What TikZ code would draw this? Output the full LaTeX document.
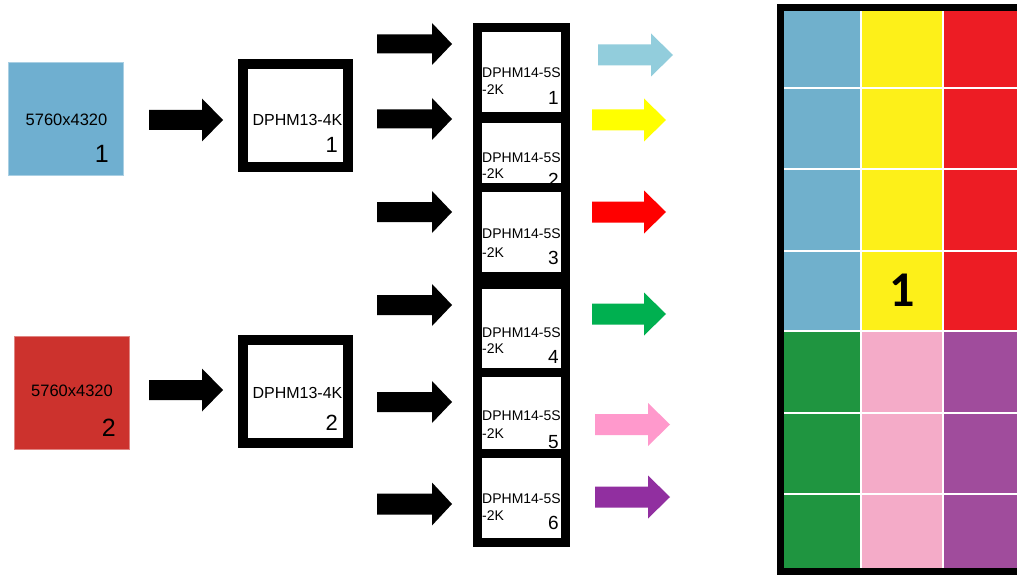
\documentclass[tikz,border=0pt]{standalone}
\usepackage{fontspec}
\setmainfont{Liberation Sans}
\newfontfamily\carlito{Carlito}
\definecolor{srcblue}{RGB}{111,175,208}
\definecolor{srcred}{RGB}{204,50,45}
\definecolor{arrblue}{RGB}{146,205,220}
\definecolor{arryellow}{RGB}{255,255,0}
\definecolor{arrred}{RGB}{255,0,0}
\definecolor{arrgreen}{RGB}{0,176,80}
\definecolor{arrpink}{RGB}{255,153,204}
\definecolor{arrpurple}{RGB}{145,47,160}
\definecolor{gblue}{RGB}{112,176,204}
\definecolor{gyellow}{RGB}{253,240,25}
\definecolor{gred}{RGB}{237,28,36}
\definecolor{ggreen}{RGB}{31,149,64}
\definecolor{gpink}{RGB}{244,171,200}
\definecolor{gpurple}{RGB}{160,76,156}
% block arrow: colour, x start, x end, y centre, shaft half, head half, head length
\newcommand\myblockarrow[7]{%
  \fill[#1] (#2,#4-#5) -- (#3-#7,#4-#5) -- (#3-#7,#4-#6) -- (#3,#4)
    -- (#3-#7,#4+#6) -- (#3-#7,#4+#5) -- (#2,#4+#5) -- cycle;}
\begin{document}
\begin{tikzpicture}[x=1pt,y=-1pt,
  srcbox/.style={minimum width=115pt,minimum height=113pt,inner sep=0pt,outer sep=0pt},
  midbox/.style={draw=black,line width=10pt,fill=white,minimum width=105pt,minimum height=103pt,inner sep=0pt},
  smallbox/.style={draw=black,line width=9pt,fill=white,minimum width=88pt,minimum height=89pt,inner sep=0pt},
  lbl/.style={inner sep=0pt,font=\fontsize{16.5}{19}\selectfont},
  mlbl/.style={inner sep=0pt,font=\fontsize{16}{19}\selectfont},
  slbl/.style={inner sep=0pt,font=\fontsize{14}{16}\selectfont},
  num/.style={inner sep=0pt,font=\fontsize{25}{30}\selectfont},
  mnum/.style={inner sep=0pt,font=\fontsize{22}{26}\selectfont},
  snum/.style={inner sep=0pt,font=\fontsize{19}{23}\selectfont},
  cell/.style={draw=white,line width=2pt}
]
\useasboundingbox (0,0) rectangle (1017,575);
\fill[white] (0,0) rectangle (1017,575);

% sources
\node[srcbox,fill=srcblue,draw=srcblue!60!white,line width=0.8pt] (s1) at (65.5,118.5) {};
\node[lbl,anchor=base] (s1t) at (66.5,126) {5760x4320};
\node[num,anchor=base east] (s1n) at (109,162) {1};
\node[srcbox,fill=srcred,draw=srcred!60!white,line width=0.8pt] (s2) at (71.5,392.5) {};
\node[lbl,anchor=base] (s2t) at (72,396) {5760x4320};
\node[num,anchor=base east] (s2n) at (116,436) {2};

% first stage arrows
\myblockarrow{black}{149}{223}{120}{10}{21.5}{21}
\myblockarrow{black}{149}{223}{390}{10}{21.5}{21}

% DPHM13 boxes
\node[midbox] (m1) at (295.5,115.5) {};
\node[mlbl,anchor=base] (m1t) at (297.5,125) {DPHM13-4K};
\node[mnum,anchor=base east] (m1n) at (338,153) {1};
\node[midbox] (m2) at (295.5,391.5) {};
\node[mlbl,anchor=base] (m2t) at (297.5,398) {DPHM13-4K};
\node[mnum,anchor=base east] (m2n) at (338,430) {2};

% second stage arrows
\myblockarrow{black}{377}{452}{44}{9.5}{21}{20}
\myblockarrow{black}{377}{452}{119}{9.5}{21}{20}
\myblockarrow{black}{377}{452}{212}{10}{21}{20}
\myblockarrow{black}{377}{452}{305}{10}{21}{20}
\myblockarrow{black}{377}{452}{402}{10}{21}{20}
\myblockarrow{black}{377}{452}{504}{10.5}{21.5}{20}

% DPHM14 boxes (stacked, overlapping)
\foreach \t/\n/\a/\b/\c in {23/1/50/67/75, 114/2/43/59/66, 183/3/50/69/75, 280/4/52/68/77, 368/5/47/65/74, 449/6/49/66/74}{
  \node[smallbox] (d\n) at (521.5,\t+49) {};
  \node[slbl,anchor=base west] (d\n a) at (482,\t+\a+5) {DPHM14-5S};
  \node[slbl,anchor=base west] (d\n b) at (482,\t+\b+5) {-2K};
  \node[snum,anchor=base east] (d\n n) at (559,\t+\c+6.5) {\n};
}
% redraw overlapping top borders so later boxes cover earlier text
\foreach \t/\n in {183/3, 368/5, 449/6}{
  \fill[white] (482,\t+9) rectangle (561,\t+20);
  \fill[black] (473,\t) rectangle (570,\t+9);
}

% coloured arrows
\myblockarrow{arrblue}{598}{673}{55}{10.5}{21.5}{22}
\myblockarrow{arryellow}{592}{666}{120}{10.5}{21.5}{22}
\myblockarrow{arrred}{592}{666}{212}{10.5}{21.5}{22}
\myblockarrow{arrgreen}{592}{666}{314}{10.5}{21.5}{22}
\myblockarrow{arrpink}{595}{670}{424.5}{10.5}{21.5}{22}
\myblockarrow{arrpurple}{595}{670}{497}{10.5}{21.5}{22}

% output grid
\foreach \ya/\yb in {11/88, 88/169, 169/251, 251/331}{
  \fill[gblue] (783,\ya) rectangle (861,\yb);
  \fill[gyellow] (861,\ya) rectangle (943,\yb);
  \fill[gred] (943,\ya) rectangle (1030,\yb);
}
\foreach \ya/\yb in {331/413, 413/494, 494/568}{
  \fill[ggreen] (783,\ya) rectangle (861,\yb);
  \fill[gpink] (861,\ya) rectangle (943,\yb);
  \fill[gpurple] (943,\ya) rectangle (1030,\yb);
}
\foreach \y in {88,169,251,331,413,494}{
  \draw[cell] (783,\y) -- (1030,\y);
}
\foreach \x in {861,943}{
  \draw[cell] (\x,11) -- (\x,568);
}
\draw[black,line width=7pt] (780.5,7.5) rectangle (1035,571.5);
\node[inner sep=0pt,anchor=base,font=\carlito\bfseries\fontsize{50}{56}\selectfont] (g1) at (902.5,306) {1};
\end{tikzpicture}
\end{document}
